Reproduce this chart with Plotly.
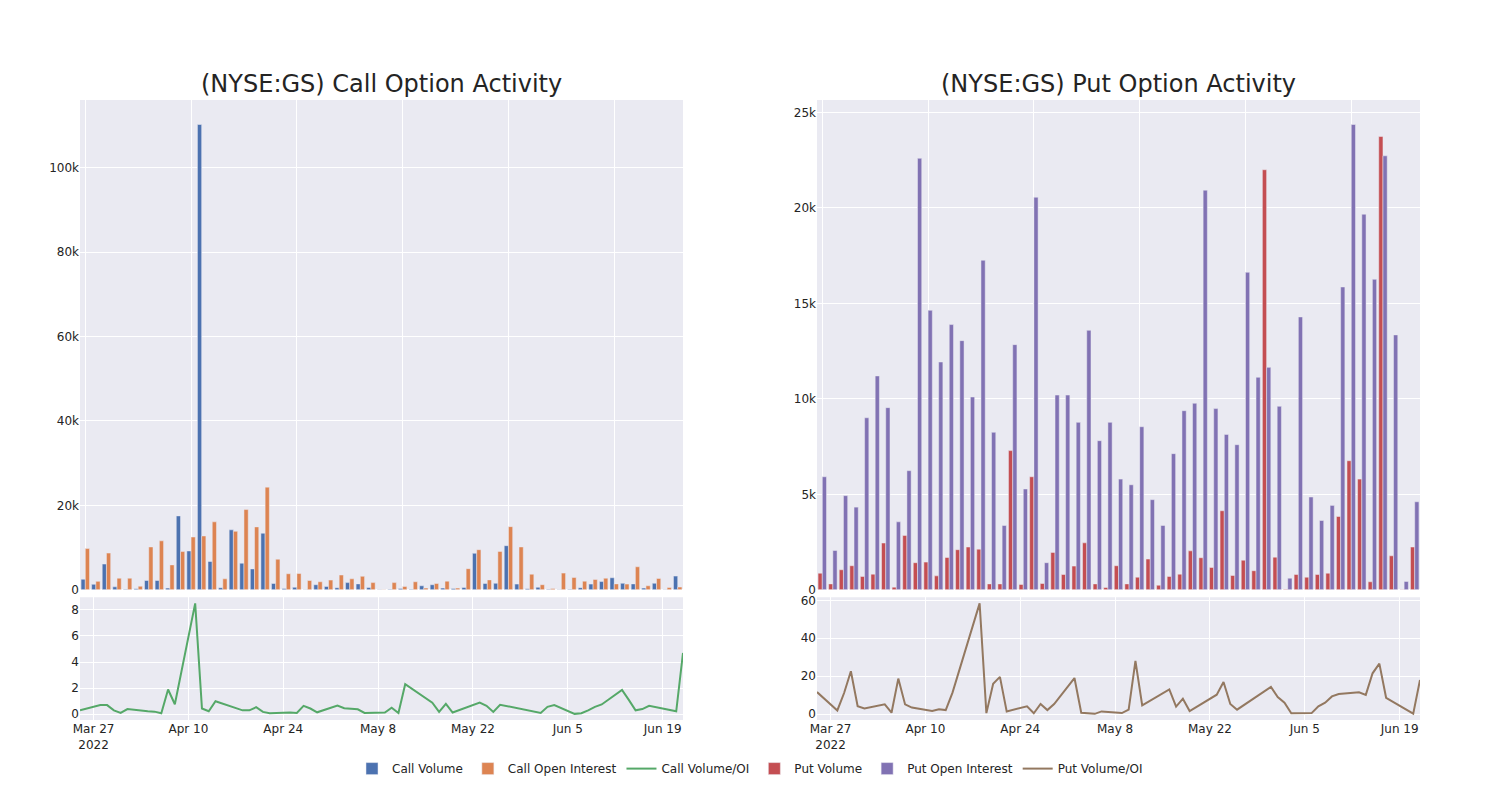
import plotly.graph_objects as go
from plotly.subplots import make_subplots

dates = [
    "2022-03-25", "2022-03-28", "2022-03-29", "2022-03-30", "2022-03-31", "2022-04-01",
    "2022-04-04", "2022-04-05", "2022-04-06", "2022-04-07", "2022-04-08",
    "2022-04-11", "2022-04-12", "2022-04-13", "2022-04-14",
    "2022-04-18", "2022-04-19", "2022-04-20", "2022-04-21", "2022-04-22",
    "2022-04-25", "2022-04-26", "2022-04-27", "2022-04-28", "2022-04-29",
    "2022-05-02", "2022-05-03", "2022-05-05", "2022-05-06",
    "2022-05-09", "2022-05-10", "2022-05-11", "2022-05-12",
    "2022-05-16", "2022-05-17", "2022-05-18", "2022-05-19",
    "2022-05-23", "2022-05-24", "2022-05-25", "2022-05-26",
    "2022-05-31", "2022-06-01", "2022-06-02", "2022-06-03",
    "2022-06-06", "2022-06-07", "2022-06-08", "2022-06-09", "2022-06-10",
    "2022-06-13", "2022-06-14", "2022-06-15", "2022-06-16", "2022-06-17",
    "2022-06-21", "2022-06-22",
]

call_volume = [
    2500, 1300, 6100, 700, 150, 250, 2200, 2200, 400, 17500, 9200, 110200, 6700, 500, 14200,
    6300, 4950, 13400, 1500, 300, 600, 100, 1200, 800, 500, 1700, 1400, 550, 50,
    150, 300, 150, 950, 1200, 400, 300, 550, 8650, 1500, 1550, 10450, 1350, 250, 600, 150,
    100, 150, 500, 1350, 1950, 2850, 1550, 1400, 400, 1550, 100, 3250,
]
call_open_interest = [
    9760, 2000, 8700, 2750, 2750, 850, 10150, 11600, 5900, 9050, 12500, 12750, 16100, 2600, 13850,
    19000, 14900, 24300, 7250, 3800, 3850, 2200, 1900, 2300, 3500, 2600, 3200, 1700, 100,
    1700, 800, 1900, 400, 1500, 2050, 400, 5000, 9500, 2350, 9100, 14950, 10150, 3700, 1200, 300,
    3950, 2900, 2050, 2450, 2750, 1400, 1350, 5450, 950, 2700, 550, 650,
]
call_vol_oi = [
    0.3, 0.7, 0.7, 0.3, 0.1, 0.4, 0.23, 0.2, 0.08, 1.9, 0.77, 8.5, 0.44, 0.23, 1.0,
    0.3, 0.3, 0.54, 0.18, 0.08, 0.13, 0.1, 0.64, 0.44, 0.15, 0.67, 0.46, 0.38, 0.1,
    0.13, 0.5, 0.1, 2.3, 0.88, 0.18, 0.8, 0.13, 0.9, 0.65, 0.18, 0.73, 0.2, 0.1, 0.57, 0.7,
    0.03, 0.08, 0.3, 0.57, 0.75, 1.87, 1.1, 0.3, 0.4, 0.65, 0.23, 4.7,
]

put_volume = [
    870, 310, 1050, 1260, 700, 820, 2450, 140, 2850, 1420, 1450, 730, 1690, 2100, 2240,
    2130, 310, 310, 7290, 280, 5920, 330, 1960, 800, 1240, 2460, 310, 120, 1260,
    310, 660, 1610, 240, 700, 820, 2040, 1680, 1170, 4140, 750, 1550, 1000, 22000, 1710, 30,
    800, 660, 800, 870, 3840, 6760, 5800, 420, 23740, 1780, 20, 2240,
]
put_open_interest = [
    5920, 2060, 4930, 4330, 9010, 11200, 9540, 3560, 6240, 22600, 14640, 11930, 13890, 13050, 10100,
    17260, 8250, 3370, 12840, 5280, 20560, 1420, 10200, 10200, 8770, 13590, 7810, 8770, 5800,
    5500, 8540, 4720, 3370, 7130, 9380, 9770, 20930, 9490, 8140, 7600, 16630, 11130, 11650, 9610, 610,
    14290, 4860, 3630, 4420, 15860, 24370, 19670, 16260, 22730, 13350, 440, 4610,
]
put_vol_oi = [
    11.6, 1.9, 11.1, 22.6, 4.1, 3.0, 5.1, 0.7, 18.7, 5.1, 3.4, 1.6, 2.5, 2.1, 11.3,
    58.4, 0.5, 16.0, 19.6, 1.4, 4.1, 0.4, 5.3, 2.1, 5.3, 19.0, 0.7, 0.1, 1.4,
    0.5, 2.3, 28.0, 4.6, 13.0, 3.9, 8.1, 1.6, 10.2, 16.9, 5.3, 2.3, 14.3, 9.0, 6.0, 0.4,
    0.5, 4.1, 6.0, 9.3, 10.6, 11.5, 10.1, 21.5, 26.6, 8.6, 0.2, 18.0,
]

titles = ["(NYSE:GS) Call Option Activity", "(NYSE:GS) Put Option Activity"]

colors = {
    "call_vol": "#4C72B0", "call_oi": "#DD8452", "call_ratio": "#55A868",
    "put_vol": "#C44E52", "put_oi": "#8172B3", "put_ratio": "#937860",
}

fig = make_subplots(
    rows=2, cols=2, row_heights=[0.79, 0.198], vertical_spacing=0.012,
    horizontal_spacing=0.1, subplot_titles=[titles[0], titles[1], "", ""],
)

bar_line = dict(color="rgb(234,234,242)", width=0.5)

fig.add_trace(go.Bar(x=dates, y=call_volume, name="Call Volume",
                     marker=dict(color=colors["call_vol"], line=bar_line)), row=1, col=1)
fig.add_trace(go.Bar(x=dates, y=call_open_interest, name="Call Open Interest",
                     marker=dict(color=colors["call_oi"], line=bar_line)), row=1, col=1)
fig.add_trace(go.Scatter(x=dates, y=call_vol_oi, name="Call Volume/OI", mode="lines",
                         line=dict(color=colors["call_ratio"], width=2)), row=2, col=1)
fig.add_trace(go.Bar(x=dates, y=put_volume, name="Put Volume",
                     marker=dict(color=colors["put_vol"], line=bar_line)), row=1, col=2)
fig.add_trace(go.Bar(x=dates, y=put_open_interest, name="Put Open Interest",
                     marker=dict(color=colors["put_oi"], line=bar_line)), row=1, col=2)
fig.add_trace(go.Scatter(x=dates, y=put_vol_oi, name="Put Volume/OI", mode="lines",
                         line=dict(color=colors["put_ratio"], width=2)), row=2, col=2)

for c in (1, 2):
    fig.update_xaxes(type="category", showticklabels=False, dtick=10, tick0=0,
                     row=1, col=c)
    fig.update_xaxes(type="date", dtick=14 * 86400000, tick0="2022-03-27",
                     row=2, col=c)

fig.update_layout(
    template="seaborn",
    width=1500, height=800,
    barmode="group",
    font=dict(family="DejaVu Sans"),
    margin=dict(l=72, r=88, t=92, b=88),
    legend=dict(orientation="h", x=0.5, xanchor="center", y=-0.055, yanchor="top"),
)
for ann in fig.layout.annotations:
    ann.font = dict(size=24, family="DejaVu Sans")

fig.write_html("out.html")
